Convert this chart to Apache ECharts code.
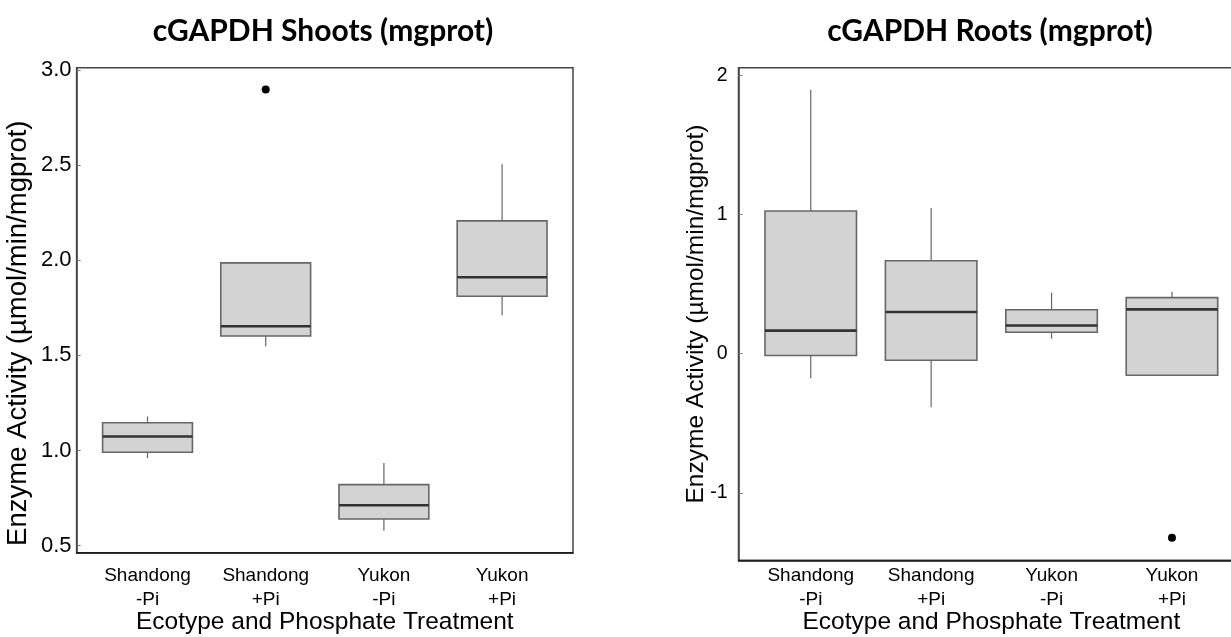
<!DOCTYPE html>
<html>
<head>
<meta charset="utf-8">
<script src="https://cdn.jsdelivr.net/npm/echarts@6/dist/echarts.min.js"></script>
<style>
html,body{margin:0;padding:0;background:#fff;}
#chart{width:1231px;height:637px;}
</style>
</head>
<body>
<div id="chart"></div>
<script>
// ---- data ----
const categories = ['Shandong\n-Pi', 'Shandong\n+Pi', 'Yukon\n-Pi', 'Yukon\n+Pi'];
// each box: [lower whisker, Q1, median, Q3, upper whisker]
const shootsBoxes = [
  [0.960, 0.991, 1.074, 1.146, 1.179],
  [1.547, 1.602, 1.653, 1.986, 1.986],
  [0.579, 0.640, 0.712, 0.821, 0.935],
  [1.711, 1.811, 1.911, 2.207, 2.505]
];
const shootsOutliers = [[2, 2.898]];
const rootsBoxes = [
  [-0.177, -0.014, 0.165, 1.024, 1.896],
  [-0.386, -0.048, 0.299, 0.667, 1.046],
  [0.107, 0.153, 0.202, 0.315, 0.437],
  [-0.156, -0.156, 0.318, 0.402, 0.445]
];
const rootsOutliers = [[4, -1.323]];
const shootsTicks = [0.5, 1.0, 1.5, 2.0, 2.5, 3.0];
const rootsTicks = [-1, 0, 1, 2];
const categoryPositions = [1, 2, 3, 4];
const titles = ['cGAPDH Shoots (mgprot)', 'cGAPDH Roots (mgprot)'];
const xTitle = 'Ecotype and Phosphate Treatment';
const yTitle = 'Enzyme Activity (\u00b5mol/min/mgprot)';

// ---- build ----
const FONT = 'Liberation Sans, Arial, sans-serif';
function boxData(boxes) {
  return boxes.map((b, i) => [categoryPositions[i]].concat(b));
}
function renderBox(params, api) {
  const x = api.value(0);
  const lo = api.coord([x, api.value(1)]);
  const q1 = api.coord([x, api.value(2)]);
  const med = api.coord([x, api.value(3)]);
  const q3 = api.coord([x, api.value(4)]);
  const hi = api.coord([x, api.value(5)]);
  const half = api.size([0.76, 0])[0] / 2;
  const cx = lo[0];
  const ws = {stroke: '#666', lineWidth: 1.2};
  return {
    type: 'group',
    children: [
      {type: 'line', shape: {x1: cx, y1: q3[1], x2: cx, y2: hi[1]}, style: ws},
      {type: 'line', shape: {x1: cx, y1: q1[1], x2: cx, y2: lo[1]}, style: ws},
      {type: 'rect', shape: {x: cx - half, y: q3[1], width: 2 * half, height: q1[1] - q3[1]},
        style: {fill: '#d3d3d3', stroke: '#676767', lineWidth: 1.6}},
      {type: 'line', shape: {x1: cx - half, y1: med[1], x2: cx + half, y2: med[1]},
        style: {stroke: '#333', lineWidth: 2.6}}
    ]
  };
}
function xAxisCfg(gridIndex, margin, nameGap) {
  return {
    type: 'value', gridIndex: gridIndex, min: 0.4, max: 4.6,
    splitLine: {show: false},
    axisLine: {show: true, onZero: false, lineStyle: {color: '#111', width: 1.5}},
    axisTick: {show: false},
    axisLabel: {
      customValues: categoryPositions,
      formatter: v => categories[Math.round(v) - 1] || '',
      fontFamily: FONT, fontSize: 19, lineHeight: 24, color: '#000', margin: margin
    },
    name: xTitle, nameLocation: 'middle', nameGap: nameGap, nameMoveOverlap: false,
    nameTextStyle: {fontFamily: FONT, fontSize: 24.5, color: '#000'}
  };
}
function yAxisCfg(gridIndex, min, max, ticks, fmt, labelSize, margin, nameSize, nameGap, namePad) {
  return {
    type: 'value', gridIndex: gridIndex, min: min, max: max,
    splitLine: {show: false},
    axisLine: {show: true, lineStyle: {color: '#444', width: 1.5}},
    axisTick: {show: true, customValues: ticks, inside: true, length: 4, lineStyle: {color: '#777', width: 1}},
    axisLabel: {customValues: ticks, formatter: fmt, fontFamily: FONT, fontSize: labelSize, color: '#000', margin: margin},
    name: yTitle, nameLocation: 'middle', nameGap: nameGap, nameMoveOverlap: false,
    nameTextStyle: {fontFamily: FONT, fontSize: nameSize, color: '#000', padding: namePad}
  };
}

const chart = echarts.init(document.getElementById('chart'), null, {renderer: 'canvas'});
chart.setOption({
  animation: false,
  backgroundColor: '#fff',
  title: [
    {text: titles[0], left: 318, top: 11, textAlign: 'center',
      textStyle: {fontFamily: 'Lato, Open Sans, sans-serif', fontWeight: 'bold', fontSize: 30, color: '#000'}},
    {text: titles[1], left: 985, top: 11, textAlign: 'center',
      textStyle: {fontFamily: 'Lato, Open Sans, sans-serif', fontWeight: 'bold', fontSize: 30, color: '#000'}}
  ],
  grid: [
    {left: 76.6, top: 67.7, width: 496.4, height: 485, show: true, borderColor: '#444', borderWidth: 1.5,
      backgroundColor: 'transparent', containLabel: false, outerBoundsMode: 'none'},
    {left: 738.5, top: 67.7, width: 505.7, height: 492.6, show: true, borderColor: '#444', borderWidth: 1.5,
      backgroundColor: 'transparent', containLabel: false, outerBoundsMode: 'none'}
  ],
  xAxis: [xAxisCfg(0, 11, 57), xAxisCfg(1, 3, 49.5)],
  yAxis: [
    yAxisCfg(0, 0.463, 3.012, shootsTicks, v => v.toFixed(1), 22, 5, 27.5, 44, [0, 46, 0, 0]),
    yAxisCfg(1, -1.485, 2.054, rootsTicks, v => String(Math.round(v)), 19.5, 11, 24.5, 30, 0)
  ],
  series: [
    {type: 'custom', xAxisIndex: 0, yAxisIndex: 0, renderItem: renderBox,
      encode: {x: 0, y: [1, 2, 3, 4, 5]}, data: boxData(shootsBoxes), silent: true},
    {type: 'scatter', xAxisIndex: 0, yAxisIndex: 0, data: shootsOutliers,
      symbol: 'circle', symbolSize: 8, itemStyle: {color: '#000', opacity: 1}, silent: true},
    {type: 'custom', xAxisIndex: 1, yAxisIndex: 1, renderItem: renderBox,
      encode: {x: 0, y: [1, 2, 3, 4, 5]}, data: boxData(rootsBoxes), silent: true},
    {type: 'scatter', xAxisIndex: 1, yAxisIndex: 1, data: rootsOutliers,
      symbol: 'circle', symbolSize: 8, itemStyle: {color: '#000', opacity: 1}, silent: true}
  ]
});
</script>
</body>
</html>
